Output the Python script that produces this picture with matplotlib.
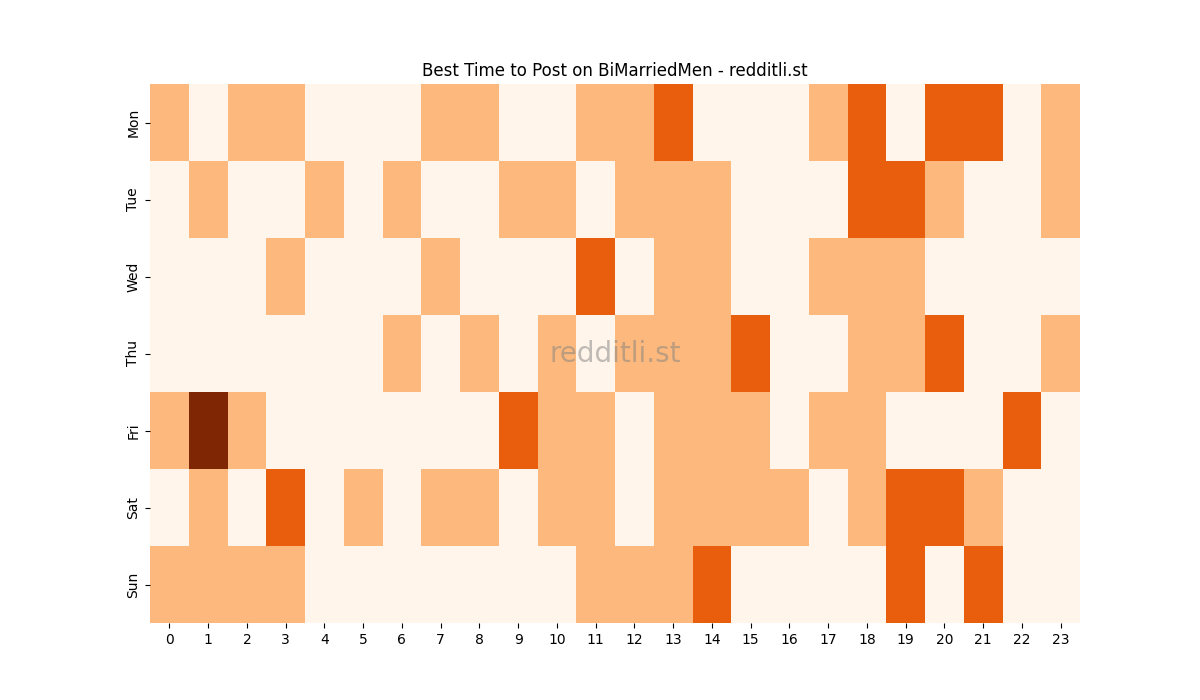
import matplotlib
matplotlib.use("Agg")
import matplotlib.pyplot as plt
import numpy as np
import seaborn as sns

days = ["Mon", "Tue", "Wed", "Thu", "Fri", "Sat", "Sun"]
hours = list(range(24))

mon = [1,0,1,1,0,0,0,1,1,0,0,1,1,2,0,0,0,1,2,0,2,2,0,1]
tue = [0,1,0,0,1,0,1,0,0,1,1,0,1,1,1,0,0,0,2,2,1,0,0,1]
wed = [0,0,0,1,0,0,0,1,0,0,0,2,0,1,1,0,0,1,1,1,0,0,0,0]
thu = [0,0,0,0,0,0,1,0,1,0,1,0,1,1,1,2,0,0,1,1,2,0,0,1]
fri = [1,3,1,0,0,0,0,0,0,2,1,1,0,1,1,1,0,1,1,0,0,0,2,0]
sat = [0,1,0,2,0,1,0,1,1,0,1,1,0,1,1,1,1,0,1,2,2,1,0,0]
sun = [1,1,1,1,0,0,0,0,0,0,0,1,1,1,2,0,0,0,0,2,0,2,0,0]

data = np.array([mon, tue, wed, thu, fri, sat, sun])

fig, ax = plt.subplots(figsize=(12, 7), dpi=100)
sns.heatmap(data, cmap="Oranges", cbar=False, ax=ax,
            xticklabels=hours, yticklabels=days, vmin=0, vmax=3)
ax.set_title("Best Time to Post on BiMarriedMen - redditli.st")
ax.set_yticklabels(days, rotation=90, va="center")
ax.set_xticklabels(hours, rotation=0)
ax.text(0.5, 0.5, "redditli.st", transform=ax.transAxes, fontsize=20,
        color="gray", alpha=0.5, ha="center", va="center")
fig.savefig("out.png")
